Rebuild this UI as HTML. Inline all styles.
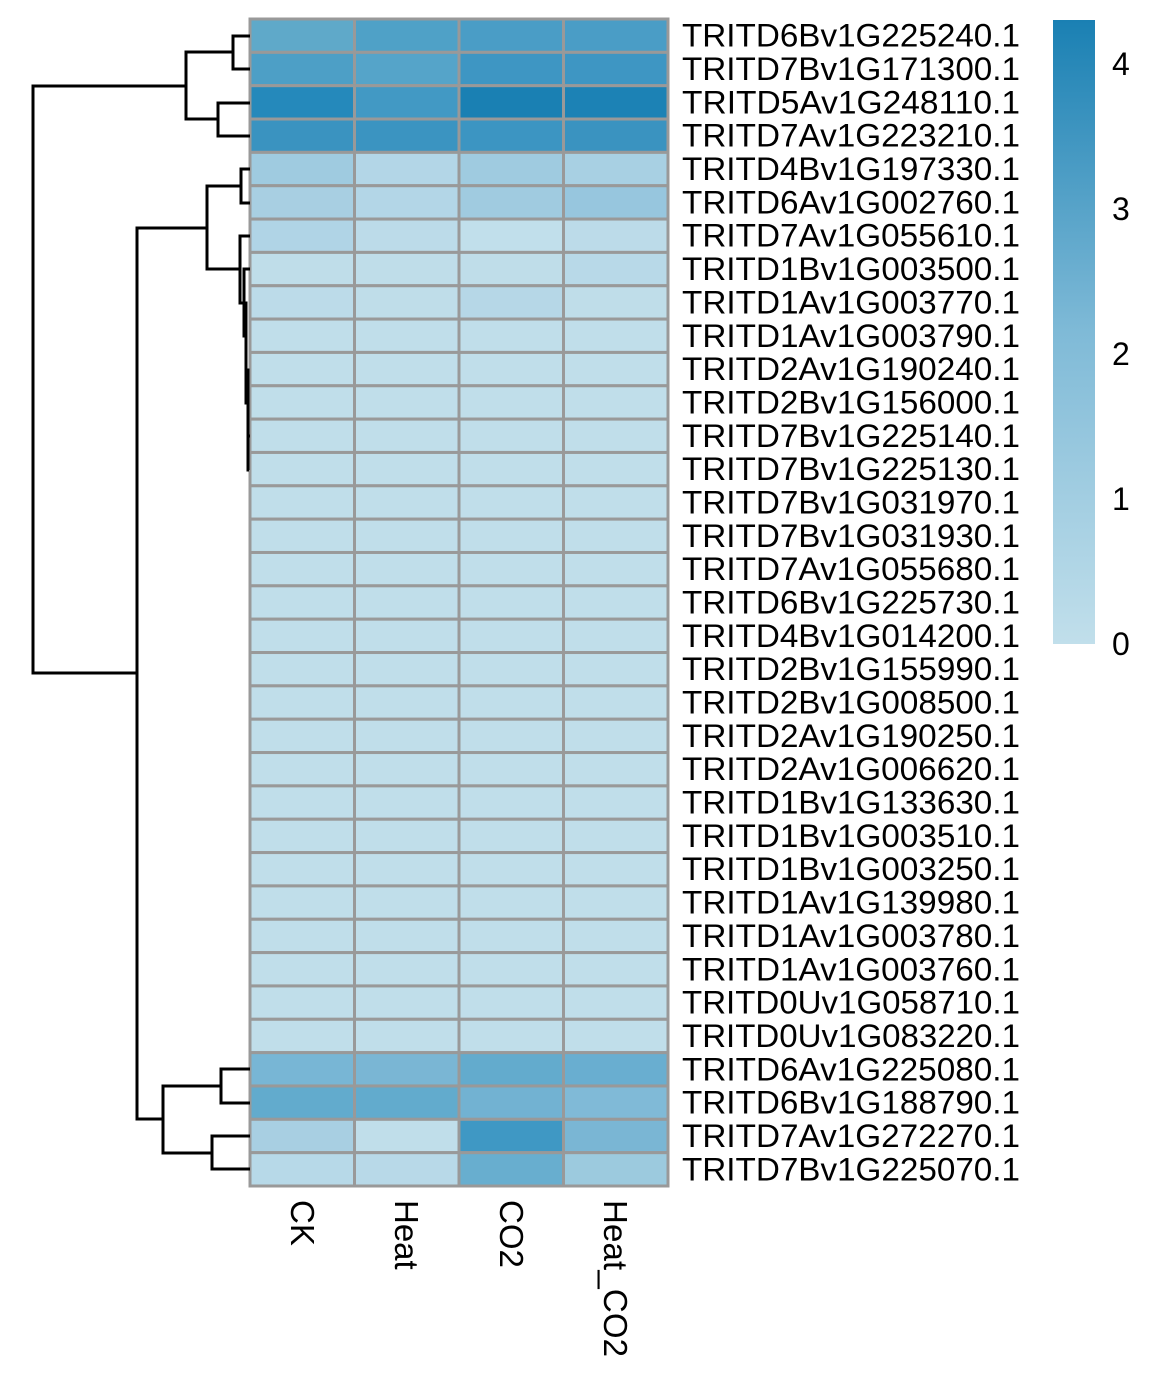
<!DOCTYPE html>
<html><head><meta charset="utf-8"><style>
body{margin:0;background:#fff}
</style></head><body>
<svg width="1172" height="1386" xmlns="http://www.w3.org/2000/svg" font-family="Liberation Sans, sans-serif">
<defs><linearGradient id="g" x1="0" y1="1" x2="0" y2="0">
<stop offset="0" stop-color="#c1dfeb"/><stop offset="0.5" stop-color="#7fbad7"/><stop offset="1" stop-color="#1a80b3"/></linearGradient></defs>
<g id="cells" stroke="#999" stroke-width="3"></g>
<g id="labs" font-size="32" fill="#000"></g>
<g fill="none" stroke="#000" stroke-width="3">
<path d="M250 36H233V69H250M250 103H218V136H250M233 52H186V119H218M186 86H33V673H137"/>
<path d="M250 169H241V203H250M250 236H240V303H244M241 186H207V269H240M207 228H137V1119H163"/>
<path d="M250 269H244V336H246M244 303H246V403H248M246 370H248V470H249M248 436H250"/>
<path d="M250 1069H221V1103H250M250 1136H212V1169H250M221 1086H163V1153H212"/>
</g>
<rect x="1053" y="20" width="42" height="624" fill="url(#g)"/>
<g font-size="32"><text x="1112" y="75">4</text><text x="1112" y="220">3</text><text x="1112" y="365">2</text><text x="1112" y="510">1</text><text x="1112" y="655">0</text></g>
<g font-size="33">
<text transform="translate(291,1200) rotate(90)">CK</text>
<text transform="translate(395,1200) rotate(90)">Heat</text>
<text transform="translate(500,1200) rotate(90)">CO2</text>
<text transform="translate(604,1200) rotate(90)" textLength="157">Heat_CO2</text>
</g>
</svg>
<script>
var names="TRITD6Bv1G225240.1 TRITD7Bv1G171300.1 TRITD5Av1G248110.1 TRITD7Av1G223210.1 TRITD4Bv1G197330.1 TRITD6Av1G002760.1 TRITD7Av1G055610.1 TRITD1Bv1G003500.1 TRITD1Av1G003770.1 TRITD1Av1G003790.1 TRITD2Av1G190240.1 TRITD2Bv1G156000.1 TRITD7Bv1G225140.1 TRITD7Bv1G225130.1 TRITD7Bv1G031970.1 TRITD7Bv1G031930.1 TRITD7Av1G055680.1 TRITD6Bv1G225730.1 TRITD4Bv1G014200.1 TRITD2Bv1G155990.1 TRITD2Bv1G008500.1 TRITD2Av1G190250.1 TRITD2Av1G006620.1 TRITD1Bv1G133630.1 TRITD1Bv1G003510.1 TRITD1Bv1G003250.1 TRITD1Av1G139980.1 TRITD1Av1G003780.1 TRITD1Av1G003760.1 TRITD0Uv1G058710.1 TRITD0Uv1G083220.1 TRITD6Av1G225080.1 TRITD6Bv1G188790.1 TRITD7Av1G272270.1 TRITD7Bv1G225070.1".split(" ");
var C={0:["#5fa9c9","#4fa1c7","#4a9dc6","#4a9dc6"],1:["#4d9fc6","#55a4c9","#3e96c3","#3e96c3"],2:["#2589bb","#4299c4","#1a80b3","#1c82b5"],3:["#3a93c0","#3b94c1","#3c95c2","#3a93c0"],4:["#9fcbe0","#b3d6e7","#9fcbe0","#a8d0e3"],5:["#a8cfe2","#b3d6e7","#a0cbe0","#97c6de"],6:["#b0d4e6","#bcdbe9","#c1dfeb","#bcdbe9"],7:["#bfdde9","#bfdde9","#bfdde9","#b8d9e8"],8:["#bcdbe9","#bfdde9","#b6d7e7","#bfdde9"],31:["#78b6d5","#7ab6d4","#63abcd","#69aed0"],32:["#62abcd","#62abcd","#72b2d2","#80bad7"],33:["#a8cfe2","#c0deea","#3f98c4","#7ab6d4"],34:["#b7d9e8","#b8d9e8","#68aecf","#9ccade"]};
var ns="http://www.w3.org/2000/svg",g=document.getElementById("cells"),l=document.getElementById("labs");
var h=(1186-19)/35,w=(668-250)/4;
for(var i=0;i<35;i++){var c=C[i]||["#c0deea","#c0deea","#c0deea","#c0deea"];
for(var j=0;j<4;j++){var r=document.createElementNS(ns,"rect");r.setAttribute("x",250+j*w);r.setAttribute("y",19+i*h);r.setAttribute("width",w);r.setAttribute("height",h);r.setAttribute("fill",c[j]);g.appendChild(r);}
var t=document.createElementNS(ns,"text");t.setAttribute("x",682);t.setAttribute("y",19+i*h+h/2+11);t.setAttribute("textLength","338");t.setAttribute("lengthAdjust","spacingAndGlyphs");t.textContent=names[i];l.appendChild(t);}
</script>
</body></html>
